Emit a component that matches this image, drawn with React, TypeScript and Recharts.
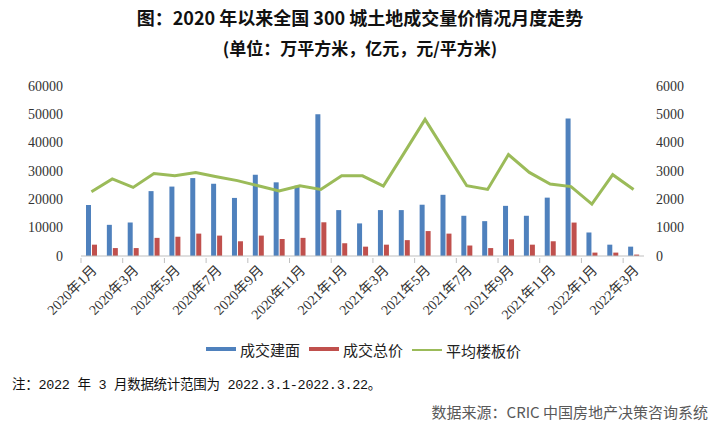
import React from "react";
import { ComposedChart, Bar, Line, XAxis, YAxis } from "recharts";

const months = [
  "2020年1月", "2020年2月", "2020年3月", "2020年4月", "2020年5月", "2020年6月",
  "2020年7月", "2020年8月", "2020年9月", "2020年10月", "2020年11月", "2020年12月",
  "2021年1月", "2021年2月", "2021年3月", "2021年4月", "2021年5月", "2021年6月",
  "2021年7月", "2021年8月", "2021年9月", "2021年10月", "2021年11月", "2021年12月",
  "2022年1月", "2022年2月", "2022年3月",
];

// 成交建面 (万平方米)
const area = [
  18000, 11000, 11800, 22900, 24500, 27500, 25500, 20500, 28700, 26000, 24800, 50000,
  16200, 11500, 16200, 16200, 18100, 21600, 14200, 12300, 17700, 14200, 20600, 48500,
  8300, 4000, 3300,
];

// 成交总价 (亿元)
const total = [
  4000, 2800, 2800, 6400, 6800, 7900, 7200, 5200, 7200, 6000, 6400, 11900,
  4500, 3300, 4000, 5600, 8800, 7900, 3700, 2800, 5900, 4000, 5200, 11800,
  1200, 1200, 500,
];

// 平均楼板价 (元/平方米)
const price = [
  2270, 2720, 2420, 2910, 2830, 2950, 2800, 2660, 2480, 2300, 2480, 2350,
  2830, 2830, 2470, 3640, 4820, 3650, 2480, 2350, 3580, 2950, 2540, 2450,
  1830, 2870, 2350,
];

const leftTicks = [0, 10000, 20000, 30000, 40000, 50000, 60000];
const rightTicks = [0, 1000, 2000, 3000, 4000, 5000, 6000];

const BLUE = "#4F81BD";
const RED = "#C0504D";
const GREEN = "#9BBB59";
const SERIF = "'Liberation Serif', 'Times New Roman', 'Noto Sans CJK SC', serif";
const SANS = "'Noto Sans CJK SC', 'Noto Sans', sans-serif";

const data = months.map((m, i) => ({
  name: m,
  area: area[i],
  total: total[i],
  price: price[i],
}));

const BAND = (644 - 81) / months.length;

function MonthTick(props: any) {
  const { x, y, payload } = props;
  const bx = x - BAND / 2;
  return (
    <g>
      <line x1={bx} y1={y - 6} x2={bx} y2={y - 1} stroke="#bfbfbf" />
      <text
        x={x + 3}
        y={y + 4}
        transform={`rotate(-45, ${x + 3}, ${y + 4})`}
        textAnchor="end"
        dominantBaseline="central"
        style={{ fontFamily: SERIF, fontSize: 14 }}
        fill="#333"
      >
        {payload.value}
      </text>
    </g>
  );
}

function NumTick(props: any) {
  const { x, y, payload, textAnchor } = props;
  return (
    <text
      x={x}
      y={y}
      textAnchor={textAnchor}
      dominantBaseline="central"
      style={{ fontFamily: SERIF, fontSize: 14 }}
      fill="#333"
    >
      {payload.value}
    </text>
  );
}

function LegendItem({ color, label, line }: { color: string; label: string; line?: boolean }) {
  return (
    <span style={{ display: "inline-flex", alignItems: "center", marginRight: 9 }}>
      <span
        style={{
          display: "inline-block",
          width: 30,
          height: line ? 2 : 4,
          background: color,
          marginRight: 4,
        }}
      />
      <span>{label}</span>
    </span>
  );
}

export default function App() {
  return (
    <div
      style={{
        position: "absolute",
        left: 0,
        top: 0,
        width: 720,
        height: 430,
        background: "#fff",
        overflow: "hidden",
      }}
    >
      <div
        style={{
          position: "absolute",
          top: 4,
          width: 720,
          textAlign: "center",
          fontFamily: SANS,
          fontWeight: 700,
          fontSize: 18,
          color: "#111",
        }}
      >
        图：2020 年以来全国 300 城土地成交量价情况月度走势
      </div>
      <div
        style={{
          position: "absolute",
          top: 35,
          width: 720,
          textAlign: "center",
          fontFamily: SANS,
          fontWeight: 700,
          fontSize: 17,
          color: "#111",
        }}
      >
        (单位：万平方米，亿元，元/平方米)
      </div>

      <div style={{ position: "absolute", left: 0, top: 0 }}>
        <ComposedChart
          width={720}
          height={430}
          data={data}
          margin={{ top: 86, right: 16, left: 21, bottom: 94 }}
          barGap={1}
        >
          <XAxis
            dataKey="name"
            interval={1}
            height={80}
            tickLine={false}
            axisLine={{ stroke: "#bfbfbf" }}
            tick={<MonthTick />}
          />
          <YAxis
            yAxisId="left"
            width={60}
            domain={[0, 60000]}
            ticks={leftTicks}
            axisLine={false}
            tickLine={false}
            tickMargin={12}
            tick={<NumTick />}
          />
          <YAxis
            yAxisId="right"
            orientation="right"
            width={60}
            domain={[0, 6000]}
            ticks={rightTicks}
            axisLine={false}
            tickLine={false}
            tickMargin={6}
            tick={<NumTick />}
          />
          <Bar yAxisId="left" dataKey="area" fill={BLUE} barSize={5} isAnimationActive={false} />
          <Bar yAxisId="left" dataKey="total" fill={RED} barSize={5} isAnimationActive={false} />
          <Line
            yAxisId="right"
            dataKey="price"
            type="linear"
            stroke={GREEN}
            strokeWidth={3}
            dot={false}
            isAnimationActive={false}
          />
        </ComposedChart>
      </div>

      <div
        style={{
          position: "absolute",
          top: 334,
          left: 8,
          width: 720,
          textAlign: "center",
          fontFamily: SANS,
          fontSize: 15,
          color: "#222",
        }}
      >
        <LegendItem color={BLUE} label="成交建面" />
        <LegendItem color={RED} label="成交总价" />
        <LegendItem color={GREEN} label="平均楼板价" line />
      </div>

      <div
        style={{
          position: "absolute",
          left: 12,
          top: 373,
          fontFamily: "'Liberation Mono', 'Noto Sans CJK SC', monospace",
          fontSize: 13.5,
          color: "#111",
          letterSpacing: -0.3,
        }}
      >
        注：2022 年 3 月数据统计范围为 2022.3.1-2022.3.22。
      </div>
      <div
        style={{
          position: "absolute",
          right: 12,
          top: 401,
          fontFamily: SANS,
          fontSize: 15,
          color: "#595959",
        }}
      >
        数据来源：CRIC 中国房地产决策咨询系统
      </div>
    </div>
  );
}
